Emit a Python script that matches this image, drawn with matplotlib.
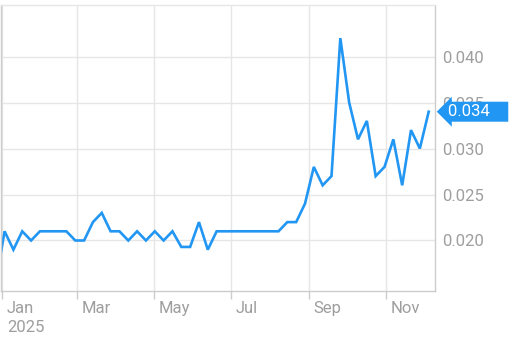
import matplotlib
matplotlib.use('Agg')
import matplotlib.pyplot as plt
import matplotlib.transforms as mtransforms
import pandas as pd

# weekly closing values
dates = [pd.Timestamp('2024-12-31')] + list(pd.date_range('2025-01-03', periods=49, freq='W-FRI'))
values = [0.0186, 0.021, 0.019, 0.021, 0.020, 0.021, 0.021, 0.021, 0.021, 0.020,
          0.020, 0.022, 0.023, 0.021, 0.021, 0.020, 0.021, 0.020, 0.021, 0.020,
          0.021, 0.0193, 0.0193, 0.022, 0.019, 0.021, 0.021, 0.021, 0.021, 0.021,
          0.021, 0.021, 0.021, 0.022, 0.022, 0.024, 0.028, 0.026, 0.027, 0.042,
          0.035, 0.031, 0.033, 0.027, 0.028, 0.031, 0.026, 0.032, 0.030, 0.034]

month_ticks = pd.to_datetime(['2025-01-01', '2025-03-01', '2025-05-01',
                              '2025-07-01', '2025-09-01', '2025-11-01'])
month_labels = ['Jan\n2025', 'Mar', 'May', 'Jul', 'Sep', 'Nov']
y_ticks = [0.020, 0.025, 0.030, 0.035, 0.040]

line_color = '#2196f3'
grey_text = '#9e9e9e'
plt.rcParams['font.family'] = ['Roboto', 'DejaVu Sans']

fig = plt.figure(figsize=(5.2, 3.37), dpi=100)
ax = fig.add_axes([1 / 520, 46 / 337, 434 / 520, 286 / 337])

ax.plot(dates, values, color=line_color, linewidth=1.9, solid_joinstyle='miter')

ax.set_xlim(pd.Timestamp('2024-12-31 04:00'), pd.Timestamp('2025-12-10'))
ax.set_ylim(0.01451, 0.0456)

ax.set_xticks(month_ticks)
ax.set_xticklabels(month_labels)
ax.set_yticks(y_ticks)
ax.set_yticklabels([f'{v:.3f}' for v in y_ticks])

ax.yaxis.tick_right()
ax.tick_params(axis='y', length=0, pad=5, labelsize=12, labelcolor=grey_text)
ax.tick_params(axis='x', length=6, width=1, color='#cccccc', pad=1,
               labelsize=12, labelcolor=grey_text)

offset = mtransforms.ScaledTranslation(5 / 100, 0, fig.dpi_scale_trans)
for lab in ax.get_xticklabels():
    lab.set_horizontalalignment('left')
    lab.set_verticalalignment('top')
    lab.set_linespacing(1.35)
    lab.set_transform(lab.get_transform() + offset)

ax.grid(True, color='#e6e6e6', linewidth=1)
ax.set_axisbelow(True)
for side in ['left', 'right', 'bottom']:
    ax.spines[side].set_color('#cccccc')
ax.spines['top'].set_color('#e6e6e6')
for sp in ax.spines.values():
    sp.set_linewidth(1)

# last value badge
last = values[-1]
ax.annotate(f'{last:.3f}    ', xy=(1.0, last), xycoords=('axes fraction', 'data'),
            xytext=(9, 0), textcoords='offset points', ha='left', va='center',
            fontsize=12, color='white',
            bbox=dict(boxstyle='larrow,pad=0.15', fc=line_color, ec='none'))

fig.savefig('out.png', dpi=100)
